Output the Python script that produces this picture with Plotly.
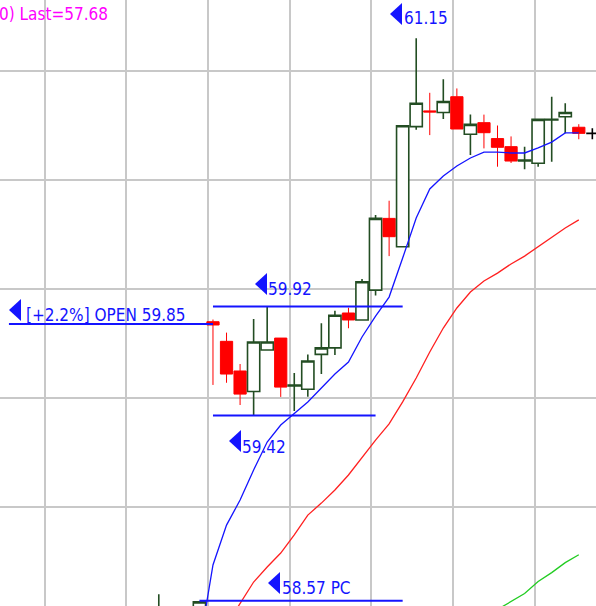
import plotly.graph_objects as go

W, H = 596, 606

# ---------------- data ----------------
bar_index = list(range(-3, 29))
opens = [58.45, 58.52, 58.47, 58.50,
         59.85, 59.76, 59.624, 59.53, 59.72, 59.775, 59.555, 59.54, 59.70, 59.73,
         59.89, 59.858, 59.995, 60.324, 60.194, 60.745, 60.817, 60.81, 60.882, 60.71,
         60.763, 60.69, 60.653, 60.587, 60.577, 60.775, 60.79, 60.742]
highs = [58.60, 58.53, 58.54, 58.565,
         59.86, 59.80, 59.656, 59.862, 59.92, 59.775, 59.615, 59.70, 59.843, 59.90,
         59.914, 60.046, 60.34, 60.405, 60.75, 61.15, 60.90, 60.962, 60.92, 60.80,
         60.80, 60.75, 60.70, 60.653, 60.778, 60.882, 60.852, 60.756]
lows = [58.40, 58.44, 58.45, 58.48,
        59.56, 59.57, 59.468, 59.42, 59.72, 59.505, 59.44, 59.506, 59.61, 59.697,
        59.82, 59.858, 59.97, 60.151, 60.19, 60.73, 60.706, 60.78, 60.734, 60.615,
        60.645, 60.561, 60.578, 60.549, 60.561, 60.584, 60.714, 60.687]
closes = [58.52, 58.47, 58.50, 58.565,
          59.835, 59.61, 59.518, 59.757, 59.757, 59.55, 59.56, 59.67, 59.73, 59.88,
          59.858, 60.033, 60.324, 60.24, 60.749, 60.852, 60.812, 60.86, 60.734, 60.755,
          60.717, 60.65, 60.587, 60.592, 60.778, 60.779, 60.81, 60.714]

# last (unchanged) bar
last_index = [29]
last_open = [60.714]
last_high = [60.737]
last_low = [60.687]
last_close = [60.714]

ma_fast_index = list(range(0, 29))
ma_fast = [58.362, 58.734, 58.917, 59.032, 59.170, 59.298, 59.376, 59.427, 59.482, 59.546,
           59.610, 59.665, 59.780, 59.876, 59.963, 60.142, 60.326, 60.459, 60.518, 60.564,
           60.601, 60.628, 60.628, 60.624, 60.624, 60.647, 60.674, 60.716, 60.716]

ma_mid_index = list(range(2, 29))
ma_mid = [58.459, 58.555, 58.656, 58.725, 58.789, 58.872, 58.963, 59.018, 59.078, 59.147,
          59.229, 59.307, 59.381, 59.482, 59.592, 59.711, 59.821, 59.913, 59.986, 60.037,
          60.073, 60.115, 60.151, 60.193, 60.234, 60.280, 60.317]

ma_slow_index = [22, 23, 24, 25, 26, 27, 28]
ma_slow = [58.530, 58.567, 58.603, 58.658, 58.699, 58.745, 58.781]

level_names = ["OPEN", "HIGH", "LOW", "PC"]
level_values = [59.84, 59.92, 59.42, 58.57]
level_from = [-14.06, 1, 1, 0]
level_to = [1, 15, 13, 15]

label_texts = ["[+2.2%] OPEN 59.85", "59.92", "59.42", "58.57 PC", "61.15"]
top_text = "0) Last=57.68"

# ---------------- figure ----------------
GREEN = "#234d23"
RED = "#ff0000"
BLUE = "#1414ff"

fig = go.Figure()
fig.add_trace(go.Candlestick(
    x=bar_index, open=opens, high=highs, low=lows, close=closes,
    increasing=dict(line=dict(color=GREEN, width=1.6), fillcolor="white"),
    decreasing=dict(line=dict(color=RED, width=1), fillcolor=RED),
    whiskerwidth=0, hoverinfo="skip", showlegend=False))
fig.add_trace(go.Candlestick(
    x=last_index, open=last_open, high=last_high, low=last_low, close=last_close,
    increasing=dict(line=dict(color="black", width=1.6), fillcolor="white"),
    decreasing=dict(line=dict(color="black", width=1.6), fillcolor="black"),
    whiskerwidth=0, hoverinfo="skip", showlegend=False))

fig.add_trace(go.Scatter(x=ma_slow_index, y=ma_slow, mode="lines",
                         line=dict(color="#22cc22", width=1.3), hoverinfo="skip", showlegend=False))
fig.add_trace(go.Scatter(x=ma_mid_index, y=ma_mid, mode="lines",
                         line=dict(color="#ff2020", width=1.3), hoverinfo="skip", showlegend=False))
fig.add_trace(go.Scatter(x=ma_fast_index, y=ma_fast, mode="lines",
                         line=dict(color=BLUE, width=1.3), hoverinfo="skip", showlegend=False))

shapes = []
for v, a, b in zip(level_values, level_from, level_to):
    shapes.append(dict(type="line", xref="x", yref="y", x0=a, x1=b, y0=v, y1=v,
                       line=dict(color=BLUE, width=2), layer="above"))


def px(x):
    return x / W


def py(y):
    return 1 - y / H


# triangle markers (tip x, centre y) and label anchors (left x, centre y), in pixels
tri_pos = [(9, 310), (255, 284), (229, 441), (268, 583), (390, 14)]
txt_pos = [(24, 315), (266, 289), (240, 447), (280, 588), (402, 18)]

for (tx, ty) in tri_pos:
    path = "M {:.5f},{:.5f} L {:.5f},{:.5f} L {:.5f},{:.5f} Z".format(
        px(tx), py(ty), px(tx + 12), py(ty - 11), px(tx + 12), py(ty + 11))
    shapes.append(dict(type="path", xref="paper", yref="paper", path=path,
                       fillcolor=BLUE, line=dict(color=BLUE, width=0), layer="above"))

FONT = "Liberation Sans Narrow, DejaVu Sans Condensed, Arial Narrow, Liberation Sans, sans-serif"
annotations = []
for t, (tx, ty) in zip(label_texts, txt_pos):
    annotations.append(dict(text=t, xref="paper", yref="paper", x=px(tx), y=py(ty),
                            xanchor="left", yanchor="middle", showarrow=False,
                            font=dict(family=FONT, size=17, color=BLUE)))
annotations.append(dict(text=top_text, xref="paper", yref="paper", x=px(-3), y=py(14),
                        xanchor="left", yanchor="middle", showarrow=False,
                        font=dict(family=FONT, size=17, color="#ff00ff")))

fig.update_layout(
    width=W, height=H,
    margin=dict(l=0, r=0, t=0, b=0),
    paper_bgcolor="white", plot_bgcolor="white",
    showlegend=False,
    boxgap=0.05, boxgroupgap=0.05,
    shapes=shapes, annotations=annotations,
    xaxis=dict(range=[-14.72, 29.27], showgrid=True, gridcolor="#c8c8c8", gridwidth=2,
               tick0=0.63, dtick=6.03, showticklabels=False, zeroline=False,
               rangeslider=dict(visible=False), fixedrange=True),
    yaxis=dict(range=[58.546, 61.3257], showgrid=True, gridcolor="#c8c8c8", gridwidth=2,
               tick0=0, dtick=0.5, showticklabels=False, zeroline=False, fixedrange=True),
)

fig.write_html("out.html", config={"displayModeBar": False},
               post_script="document.body.style.margin='0';document.body.style.padding='0';"
                           "document.body.style.overflow='hidden';")
